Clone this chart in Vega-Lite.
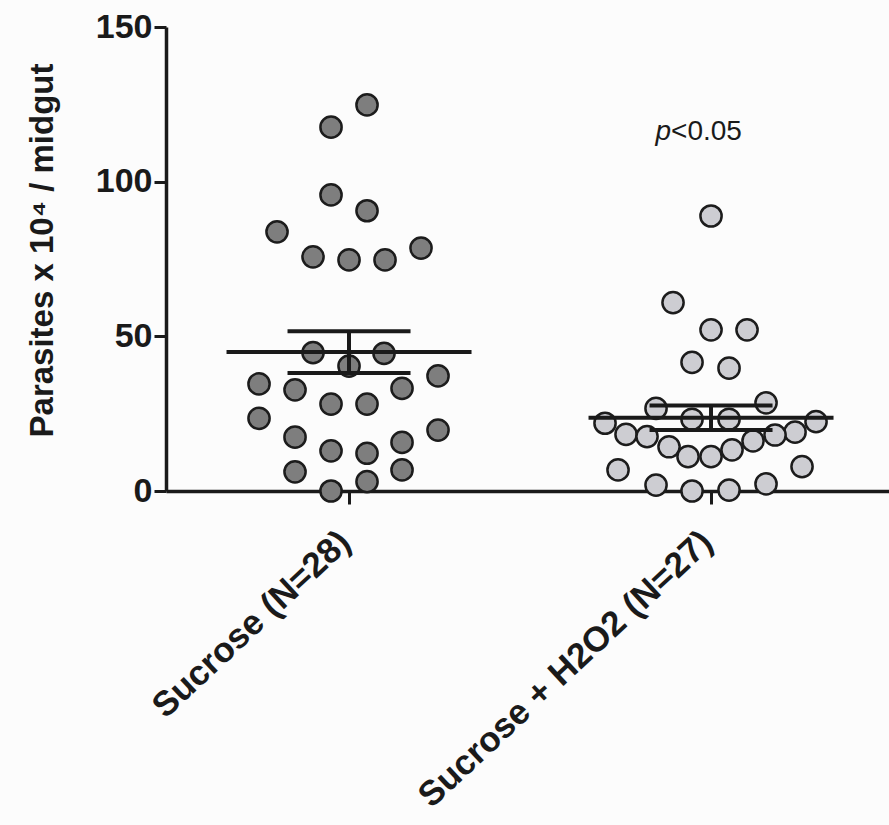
{
  "$schema": "https://vega.github.io/schema/vega-lite/v6.json",
  "width": 723,
  "height": 464,
  "autosize": "none",
  "padding": {"left": 166, "top": 27, "right": 0, "bottom": 334},
  "background": "#fcfcfc",
  "config": {"view": {"stroke": null}, "font": "Liberation Sans"},
  "datasets": {
    "pts": [
      {"group": "Sucrose (N=28)", "dx": 18, "value": 124.8},
      {"group": "Sucrose (N=28)", "dx": -18, "value": 117.6},
      {"group": "Sucrose (N=28)", "dx": -18, "value": 95.7},
      {"group": "Sucrose (N=28)", "dx": 18, "value": 90.6},
      {"group": "Sucrose (N=28)", "dx": -72, "value": 83.8},
      {"group": "Sucrose (N=28)", "dx": -36, "value": 75.7},
      {"group": "Sucrose (N=28)", "dx": 0, "value": 74.7},
      {"group": "Sucrose (N=28)", "dx": 36, "value": 74.7},
      {"group": "Sucrose (N=28)", "dx": 72, "value": 78.5},
      {"group": "Sucrose (N=28)", "dx": -36, "value": 44.7},
      {"group": "Sucrose (N=28)", "dx": 35, "value": 44.5},
      {"group": "Sucrose (N=28)", "dx": 0, "value": 40.4},
      {"group": "Sucrose (N=28)", "dx": -90, "value": 34.6},
      {"group": "Sucrose (N=28)", "dx": -54, "value": 32.7},
      {"group": "Sucrose (N=28)", "dx": -18, "value": 28.1},
      {"group": "Sucrose (N=28)", "dx": 18, "value": 28.1},
      {"group": "Sucrose (N=28)", "dx": 53, "value": 33.2},
      {"group": "Sucrose (N=28)", "dx": 89, "value": 37.2},
      {"group": "Sucrose (N=28)", "dx": -90, "value": 23.5},
      {"group": "Sucrose (N=28)", "dx": -54, "value": 17.4},
      {"group": "Sucrose (N=28)", "dx": -18, "value": 13.0},
      {"group": "Sucrose (N=28)", "dx": 18, "value": 12.2},
      {"group": "Sucrose (N=28)", "dx": 53, "value": 15.7},
      {"group": "Sucrose (N=28)", "dx": 89, "value": 19.7},
      {"group": "Sucrose (N=28)", "dx": -54, "value": 6.2},
      {"group": "Sucrose (N=28)", "dx": -18, "value": 0},
      {"group": "Sucrose (N=28)", "dx": 18, "value": 3.0},
      {"group": "Sucrose (N=28)", "dx": 53, "value": 6.8},
      {"group": "Sucrose + H2O2 (N=27)", "dx": 0, "value": 88.9},
      {"group": "Sucrose + H2O2 (N=27)", "dx": -38, "value": 60.9},
      {"group": "Sucrose + H2O2 (N=27)", "dx": 0, "value": 52.1},
      {"group": "Sucrose + H2O2 (N=27)", "dx": 36, "value": 52.1},
      {"group": "Sucrose + H2O2 (N=27)", "dx": -19, "value": 41.6},
      {"group": "Sucrose + H2O2 (N=27)", "dx": 18, "value": 39.7},
      {"group": "Sucrose + H2O2 (N=27)", "dx": -55, "value": 26.7},
      {"group": "Sucrose + H2O2 (N=27)", "dx": 55, "value": 28.5},
      {"group": "Sucrose + H2O2 (N=27)", "dx": -19, "value": 23.2},
      {"group": "Sucrose + H2O2 (N=27)", "dx": 18, "value": 23.2},
      {"group": "Sucrose + H2O2 (N=27)", "dx": -106, "value": 21.9},
      {"group": "Sucrose + H2O2 (N=27)", "dx": 105, "value": 22.4},
      {"group": "Sucrose + H2O2 (N=27)", "dx": -85, "value": 18.3},
      {"group": "Sucrose + H2O2 (N=27)", "dx": -64, "value": 17.6},
      {"group": "Sucrose + H2O2 (N=27)", "dx": 84, "value": 19.0},
      {"group": "Sucrose + H2O2 (N=27)", "dx": 64, "value": 18.1},
      {"group": "Sucrose + H2O2 (N=27)", "dx": -42, "value": 14.3},
      {"group": "Sucrose + H2O2 (N=27)", "dx": 42, "value": 16.2},
      {"group": "Sucrose + H2O2 (N=27)", "dx": -23, "value": 11.1},
      {"group": "Sucrose + H2O2 (N=27)", "dx": 0, "value": 11.1},
      {"group": "Sucrose + H2O2 (N=27)", "dx": 21, "value": 13.3},
      {"group": "Sucrose + H2O2 (N=27)", "dx": -93, "value": 6.8},
      {"group": "Sucrose + H2O2 (N=27)", "dx": 91, "value": 7.9},
      {"group": "Sucrose + H2O2 (N=27)", "dx": -55, "value": 1.9},
      {"group": "Sucrose + H2O2 (N=27)", "dx": -19, "value": 0},
      {"group": "Sucrose + H2O2 (N=27)", "dx": 18, "value": 0.3},
      {"group": "Sucrose + H2O2 (N=27)", "dx": 55, "value": 2.3}
    ],
    "note": [
      {"group": "Sucrose + H2O2 (N=27)", "value": 116, "p": "p", "rest": "<0.05"}
    ]
  },
  "layer": [
    {
      "data": {"name": "pts"},
      "mark": {"type": "circle", "size": 450, "opacity": 1, "stroke": "#1c1c1c", "strokeWidth": 2.5},
      "encoding": {
        "x": {
          "field": "group", "type": "nominal", "sort": null,
          "scale": {"type": "point", "padding": 0.4986, "align": 0.507},
          "axis": {
            "title": null, "domainColor": "#1a1a1a", "domainWidth": 3.5,
            "tickColor": "#1a1a1a", "tickWidth": 3, "tickSize": 13,
            "labelAngle": -43, "labelAlign": "right", "labelBaseline": "top",
            "labelFont": "Liberation Sans", "labelFontWeight": "bold", "labelFontSize": 35,
            "labelColor": "#1a1a1a", "labelPadding": 20, "labelOffset": -16, "labelLimit": 0
          }
        },
        "xOffset": {"field": "dx", "type": "quantitative", "scale": {"domain": [-100, 100], "range": [-100, 100]}},
        "y": {
          "field": "value", "type": "quantitative",
          "scale": {"domain": [0, 150], "nice": false},
          "axis": {
            "title": "Parasites x 10⁴ / midgut", "values": [0, 50, 100, 150], "grid": false,
            "domainColor": "#1a1a1a", "domainWidth": 3.5,
            "tickColor": "#1a1a1a", "tickWidth": 3, "tickSize": 12,
            "labelFont": "Liberation Sans", "labelFontWeight": "bold", "labelFontSize": 34,
            "labelColor": "#1a1a1a", "labelPadding": 2,
            "titleFont": "Liberation Sans", "titleFontWeight": "bold", "titleFontSize": 33,
            "titleColor": "#1a1a1a", "titlePadding": 36, "titleY": 223
          }
        },
        "fill": {"field": "group", "type": "nominal", "scale": {"range": ["#7e7e7e", "#cdcdd2"]}, "legend": null}
      }
    },
    {
      "data": {"name": "pts"},
      "mark": {"type": "errorbar", "extent": "stderr", "color": "#1a1a1a", "opacity": 1, "thickness": 4, "ticks": {"size": 123, "thickness": 4, "color": "#1a1a1a", "opacity": 1}},
      "encoding": {
        "x": {"field": "group", "type": "nominal", "sort": null},
        "y": {"field": "value", "type": "quantitative", "title": "Parasites x 10⁴ / midgut"}
      }
    },
    {
      "data": {"name": "pts"},
      "mark": {"type": "tick", "size": 245, "thickness": 4, "color": "#1a1a1a", "opacity": 1},
      "encoding": {
        "x": {"field": "group", "type": "nominal", "sort": null},
        "y": {"aggregate": "mean", "field": "value", "type": "quantitative", "title": "Parasites x 10⁴ / midgut"}
      }
    },
    {
      "data": {"name": "note"},
      "mark": {"type": "text", "align": "right", "baseline": "middle", "dx": -40, "font": "Liberation Sans", "fontStyle": "italic", "fontSize": 28, "color": "#1a1a1a"},
      "encoding": {
        "x": {"field": "group", "type": "nominal", "sort": null},
        "y": {"field": "value", "type": "quantitative", "title": "Parasites x 10⁴ / midgut"},
        "text": {"field": "p"}
      }
    },
    {
      "data": {"name": "note"},
      "mark": {"type": "text", "align": "left", "baseline": "middle", "dx": -40, "font": "Liberation Sans", "fontSize": 28, "color": "#1a1a1a"},
      "encoding": {
        "x": {"field": "group", "type": "nominal", "sort": null},
        "y": {"field": "value", "type": "quantitative", "title": "Parasites x 10⁴ / midgut"},
        "text": {"field": "rest"}
      }
    }
  ]
}
